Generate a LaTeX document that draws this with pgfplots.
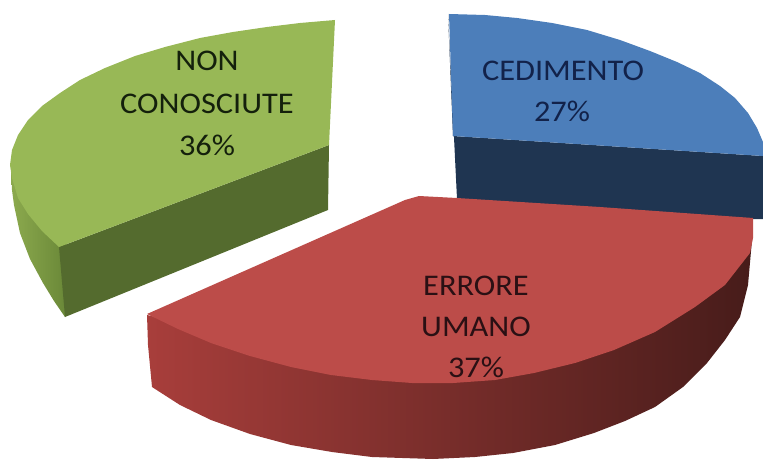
\documentclass[border=0pt]{standalone}
\usepackage{pgfplots}
\pgfplotsset{compat=1.18}
\usepackage{fontspec}
\setmainfont{Carlito}
\definecolor{gtop}{HTML}{98B856}
\definecolor{gdark}{HTML}{546B2E}
\definecolor{gl}{HTML}{8CAA4E}
\definecolor{gr}{HTML}{6A8838}
\definecolor{btop}{HTML}{4C7EBA}
\definecolor{bdark}{HTML}{1F3551}
\definecolor{rtop}{HTML}{BC4C49}
\definecolor{rl}{HTML}{A83E3B}
\definecolor{rm}{HTML}{6E2A28}
\definecolor{rr}{HTML}{471C1A}
\definecolor{tnavy}{HTML}{12224A}
\definecolor{tred}{HTML}{2A1014}
\definecolor{tgreen}{HTML}{14200C}
\tikzset{lbl/.style={font=\fontsize{30}{34}\selectfont, anchor=center, inner sep=0pt, xscale=1.08}}
\begin{document}
\begin{tikzpicture}
\path[use as bounding box] (0,0) rectangle (763pt,460pt);
\begin{axis}[
  at={(0,0)}, anchor=south west,
  scale only axis, width=763pt, height=460pt,
  xmin=0, xmax=763, ymin=0, ymax=460, y dir=reverse,
  axis lines=none, clip=true, no markers,
]
% green slice: outer side, cut face, top
\addplot[left color=gl, right color=gr, draw=none] coordinates {
 (11,170) (12,190) (14,205) (20,233) (30,259) (43,283) (54,301) (65,317) (66,240) (40,205) (25,180)} -- cycle;
\addplot[fill=gdark, draw=none] coordinates {(59,247) (329,145) (328,210) (65,317)} -- cycle;
\addplot[fill=gtop, draw=none] coordinates {
 (335,20) (300,23) (267,27) (233,32) (200,38) (165,47) (135,56) (105,68) (80,80) (60,93) (42,106) (28,120) (18,135) (12,150) (10,165) (12,178) (18,198) (28,214) (42,231) (59,247) (329,145)} -- cycle;
% blue slice
\addplot[fill=bdark, draw=none] coordinates {(448,14) (453,136) (763,156) (763,219) (752,219) (457,199)} -- cycle;
\addplot[fill=btop, draw=none] coordinates {
 (449,14) (485,15) (517,18) (552,23) (587,30) (620,40) (650,51) (677,62) (700,73) (720,86) (735,98) (748,113) (757,128) (763,142) (763,156) (453,136)} -- cycle;
% red slice
\addplot[left color=rl, middle color=rm, right color=rr, draw=none] coordinates {
 (147,315) (148,345) (152,387) (180,405) (211,420) (250,434) (291,445) (332,452) (372,457) (433,459) (475,457) (513,453) (555,445) (594,433) (625,421) (655,407) (683,387) (707,363) (725,340) (740,317) (748,285) (752,240) (725,270) (655,320) (534,360) (412,370) (291,355) (211,330)} -- cycle;
\addplot[fill=rtop, draw=none] coordinates {
 (419,196) (457,198) (600,207) (753,218) (753,238) (750,253) (725,285) (695,307) (655,332) (614,350) (575,363) (534,373) (495,380) (453,383) (412,383) (372,380) (331,375) (291,367) (250,356) (211,343) (178,329) (147,314) (405,200)} -- cycle;
\node[lbl, text=tgreen] at (axis cs:207,61) {NON};
\node[lbl, text=tgreen] at (axis cs:207,104) {CONOSCIUTE};
\node[lbl, text=tgreen] at (axis cs:207,145) {36\%};
\node[lbl, text=tnavy] at (axis cs:563,71) {CEDIMENTO};
\node[lbl, text=tnavy] at (axis cs:562,111) {27\%};
\node[lbl, text=tred] at (axis cs:476,286) {ERRORE};
\node[lbl, text=tred] at (axis cs:476,327) {UMANO};
\node[lbl, text=tred] at (axis cs:476,367) {37\%};
\end{axis}
\end{tikzpicture}
\end{document}
